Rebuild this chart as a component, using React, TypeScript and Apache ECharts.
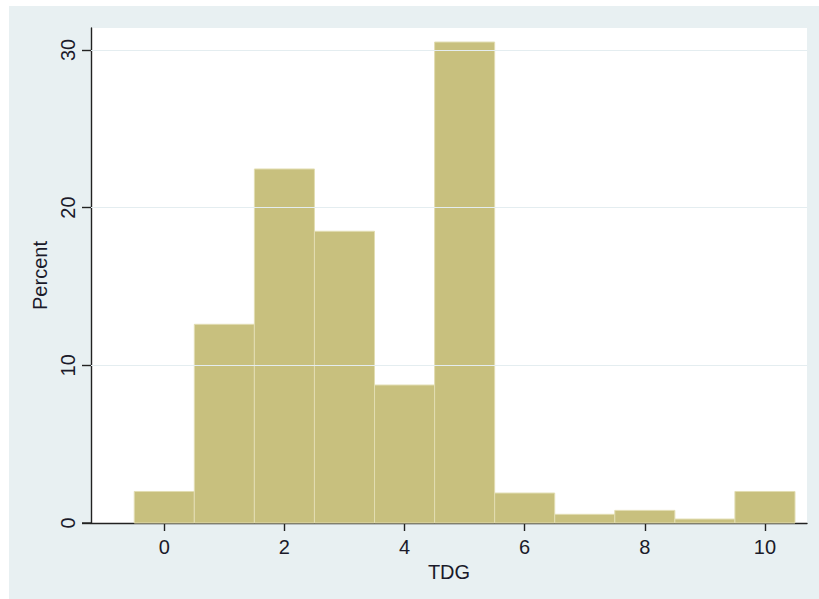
import React, { useEffect, useRef } from "react";
import * as echarts from "echarts";

const binCenters = [0, 1, 2, 3, 4, 5, 6, 7, 8, 9, 10];
const percentValues = [2.0, 12.6, 22.45, 18.5, 8.75, 30.5, 1.9, 0.55, 0.8, 0.25, 2.0];
const xTickValues = [0, 2, 4, 6, 8, 10];
const yTickValues = [0, 10, 20, 30];
const gridValues = [10, 20, 30];
const xAxisTitle = "TDG";
const yAxisTitle = "Percent";

export default function App() {
  const ref = useRef<HTMLDivElement>(null);
  useEffect(() => {
    if (!ref.current) return;
    const chart = echarts.init(ref.current, undefined, { renderer: "svg" });
    const font = "Liberation Sans, Arial, sans-serif";
    const data = binCenters.map((c, i) => [c, percentValues[i]]);
    chart.setOption({
      animation: false,
      backgroundColor: "#ffffff",
      graphic: [
        {
          type: "rect",
          shape: { x: 9, y: 6, width: 810, height: 593 },
          style: { fill: "#E8F0F2" },
          z: -10,
          silent: true,
        },
        {
          type: "line",
          shape: { x1: 82, y1: 523, x2: 92, y2: 523 },
          style: { stroke: "#222", lineWidth: 1.4 },
          z: 10,
        },
      ],
      grid: {
        left: 91,
        right: 12,
        top: 28,
        bottom: 76,
        show: true,
        backgroundColor: "#ffffff",
        borderWidth: 0,
        containLabel: false,
      },
      xAxis: {
        type: "value",
        min: -1.22,
        max: 10.7,
        name: xAxisTitle,
        nameLocation: "middle",
        nameGap: 32,
        nameTextStyle: { fontFamily: font, fontSize: 20, color: "#1a1a2a" },
        axisLine: { show: true, onZero: false, lineStyle: { color: "#222", width: 1.4 } },
        axisTick: { show: true, length: 8, customValues: xTickValues, lineStyle: { color: "#222", width: 1.4 } },
        axisLabel: {
          customValues: xTickValues,
          margin: 14,
          fontFamily: font,
          fontSize: 20,
          color: "#1a1a2a",
        },
        splitLine: { show: false },
      },
      yAxis: {
        type: "value",
        min: 0,
        max: 31.39,
        name: yAxisTitle,
        nameLocation: "middle",
        nameRotate: 90,
        nameGap: 37,
        nameTextStyle: { fontFamily: font, fontSize: 20, color: "#1a1a2a" },
        axisLine: { show: true, onZero: false, lineStyle: { color: "#222", width: 1.4 } },
        axisTick: { show: true, length: 9, customValues: yTickValues, lineStyle: { color: "#222", width: 1.4 } },
        axisLabel: {
          customValues: yTickValues,
          rotate: 90,
          margin: 13,
          fontFamily: font,
          fontSize: 20,
          color: "#1a1a2a",
        },
        splitLine: { show: false },
      },
      series: [
        {
          type: "line",
          data: [],
          z: 1,
          silent: true,
          markLine: {
            silent: true,
            symbol: "none",
            label: { show: false },
            lineStyle: { color: "#E4EDF0", width: 1.2, type: "solid" },
            data: gridValues.map((v) => ({ yAxis: v })),
          },
        },
        {
          type: "custom",
          z: 3,
          data,
          renderItem: (params: any, api: any) => {
            const x = api.value(0);
            const y = api.value(1);
            const p1 = api.coord([x - 0.5, y]);
            const p2 = api.coord([x + 0.5, 0]);
            return {
              type: "rect",
              shape: { x: p1[0], y: p1[1], width: p2[0] - p1[0], height: p2[1] - p1[1] },
              style: { fill: "#C8C07E", stroke: "#E2DDB2", lineWidth: 1 },
            };
          },
        },
      ],
    });
    return () => chart.dispose();
  }, []);
  return (
    <div
      ref={ref}
      style={{ position: "fixed", left: 0, top: 0, width: 819, height: 599 }}
    />
  );
}
